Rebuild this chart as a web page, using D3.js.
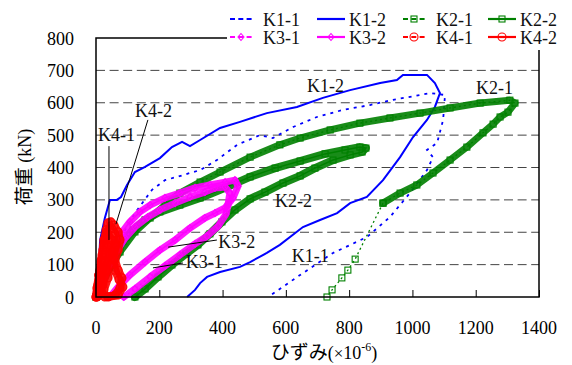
<!DOCTYPE html>
<html>
<head>
<meta charset="utf-8">
<script src="https://cdn.jsdelivr.net/npm/d3@7/dist/d3.min.js"></script>
<style>
  body { margin: 0; background: #fff; }
  svg text { font-family: "Liberation Serif", "Times New Roman", serif; }
  svg text .jp { font-family: "Noto Sans CJK JP", sans-serif; }
</style>
</head>
<body>
<script>
// ---- data: [strain (x10^-6), load (kN)] ----
const xTicks = [0, 200, 400, 600, 800, 1000, 1200, 1400];
const yTicks = [0, 100, 200, 300, 400, 500, 600, 700, 800];

const k11 = [[0,0],[44,114],[92,207],[123,259],[177,331],[218,361],[256,371],[297,383],[329,392],
  [382,423],[446,470],[518,500],[559,491],[623,525],[698,556],[781,578],[866,593],[939,609],
  [1008,621],[1056,630],[1103,624],[1097,547],[1078,476],[1046,454],[1065,432],[1046,392],
  [992,321],[929,247],[856,185],[749,136],[645,68],[566,15],[544,0]];

const k12 = [[0,0],[6,37],[13,176],[28,244],[44,300],[66,300],[79,309],[98,346],[123,386],
  [155,402],[202,429],[240,463],[272,479],[297,466],[329,485],[392,522],[455,541],[540,568],
  [635,587],[717,615],[803,639],[898,661],[951,670],[970,686],[1046,686],[1071,661],[1087,630],
  [1071,587],[1046,547],[1002,494],[961,432],[907,361],[856,309],[803,290],[762,259],[708,238],
  [654,216],[581,161],[540,136],[487,108],[455,93],[392,77],[351,62],[329,43],[313,22],[288,0]];

// K2-1: cyclic part, then the sparse unloading tail
const k21 = [[0,0],[19,37],[44,90],[76,139],[123,201],[171,244],[218,284],[265,321],[329,355],
  [392,386],[487,432],[581,470],[645,491],[740,516],[834,537],[929,553],[1024,568],[1119,584],
  [1214,599],[1308,608],[1324,599],[1302,571],[1277,556],[1255,534],[1223,507],[1172,463],
  [1119,423],[1065,383],[1014,346],[961,321],[907,290]];
const k21Tail = [[907,290],[819,117],[796,83],[777,59],[746,22],[730,0]];

const k22 = [[0,0],[13,37],[32,83],[54,130],[82,170],[117,207],[155,238],[202,263],[265,284],
  [329,306],[408,337],[487,371],[566,398],[645,420],[724,442],[787,454],[834,463],[853,460],
  [841,448],[803,439],[749,423],[692,398],[645,374],[591,352],[534,324],[487,303],[439,269],
  [398,232],[360,195],[322,161],[284,133],[240,99],[196,62],[155,25],[123,0]];

const k31 = [[0,0],[19,43],[38,90],[63,139],[92,182],[123,216],[164,247],[202,269],[250,290],
  [297,309],[344,324],[376,337],[408,340],[423,321],[417,284],[411,256],[386,219],[351,188],
  [313,164],[265,130],[218,96],[171,62],[123,25],[88,0]];

const k32 = [[0,0],[13,37],[28,90],[51,145],[76,192],[107,232],[139,263],[171,284],[218,306],
  [265,321],[313,337],[360,346],[408,355],[439,361],[449,343],[433,306],[408,275],[376,259],
  [344,244],[297,213],[250,176],[202,145],[155,108],[107,68],[70,31],[44,0]];

const k41 = [[0,0],[3,28],[9,68],[16,108],[22,145],[28,176],[35,201],[44,213],[54,198],[63,161],
  [54,120],[60,83],[73,53],[85,31],[70,6],[38,0],[19,15],[13,53],[19,90],[28,130],[41,161],
  [51,139],[44,99],[38,59],[25,22],[3,0]];

const k42 = [[0,0],[6,37],[13,83],[19,130],[25,176],[32,207],[38,229],[47,232],[57,222],[70,201],
  [76,176],[70,145],[60,114],[70,83],[82,59],[76,28],[60,6],[28,0],[13,22],[9,68],[16,114],
  [25,161],[38,192],[51,176],[44,130],[32,83],[22,37],[6,3]];

// ---- layout ----
const width = 572, height = 365;
const plot = {left: 96, right: 539, top: 38, bottom: 297};
const fs = 18;

const svg = d3.select('body').append('svg')
    .attr('width', width)
    .attr('height', height);

const x = d3.scaleLinear().domain([0, 1400]).range([plot.left, plot.right]);
const y = d3.scaleLinear().domain([0, 800]).range([plot.bottom, plot.top]);

// dashed grid
svg.append('g')
    .selectAll('line')
    .data(yTicks.filter(d => d > 0 && d < 800))
    .join('line')
    .attr('x1', plot.left).attr('x2', plot.right)
    .attr('y1', d => y(d)).attr('y2', d => y(d))
    .attr('stroke', '#444')
    .attr('stroke-width', 1)
    .attr('stroke-dasharray', '9,4.6');

// axes (ticks drawn inside)
const xAxis = svg.append('g')
    .attr('transform', `translate(0,${plot.bottom})`)
    .call(d3.axisTop(x).tickValues(xTicks).tickSize(7).tickFormat(''));
xAxis.select('.domain').remove();
xAxis.selectAll('line').attr('stroke', '#000');

svg.append('g')
    .selectAll('text')
    .data(xTicks)
    .join('text')
    .attr('x', d => x(d))
    .attr('y', 334)
    .attr('text-anchor', 'middle')
    .attr('font-size', fs)
    .text(d => d);

svg.append('g')
    .selectAll('text')
    .data(yTicks)
    .join('text')
    .attr('x', 74)
    .attr('y', d => y(d) + 6.5)
    .attr('text-anchor', 'end')
    .attr('font-size', fs)
    .text(d => d);

// series styles
const series = [
  {name: 'K1-1', data: k11, color: '#0000ff', dash: '3,5', lw: 1.8},
  {name: 'K1-2', data: k12, color: '#0000ff', dash: null, lw: 2},
  {name: 'K2-1', data: k21, tail: k21Tail, color: '#008000', dash: '2,3', lw: 1.3, marker: 'square', band: 7},
  {name: 'K2-2', data: k22, color: '#008000', dash: null, lw: 1.5, marker: 'square', band: 8},
  {name: 'K3-1', data: k31, color: '#ff00ff', dash: '2,3', lw: 1.3, marker: 'diamond', band: 7},
  {name: 'K3-2', data: k32, color: '#ff00ff', dash: null, lw: 1.5, marker: 'diamond', band: 7},
  {name: 'K4-1', data: k41, color: '#ff0000', dash: '2,3', lw: 1.3, marker: 'circle', band: 8},
  {name: 'K4-2', data: k42, color: '#ff0000', dash: null, lw: 1.5, marker: 'circle', band: 8}
];

const line = d3.line().x(d => x(d[0])).y(d => y(d[1]));

function drawMarker(g, kind, color, cx, cy) {
  if (kind === 'square') {
    g.append('rect').attr('x', cx - 3).attr('y', cy - 3).attr('width', 6).attr('height', 6)
      .attr('fill', 'none').attr('stroke', color).attr('stroke-width', 1.1);
  } else if (kind === 'diamond') {
    g.append('path').attr('d', `M${cx},${cy - 3.5}L${cx + 3},${cy}L${cx},${cy + 3.5}L${cx - 3},${cy}Z`)
      .attr('fill', 'none').attr('stroke', color).attr('stroke-width', 1.1);
  } else if (kind === 'circle') {
    g.append('circle').attr('cx', cx).attr('cy', cy).attr('r', 4)
      .attr('fill', 'none').attr('stroke', color).attr('stroke-width', 1.1);
  }
}

const plotG = svg.append('g');
series.forEach(s => {
  const g = plotG.append('g');
  // repeated cycles pile up into a solid band
  if (s.band) {
    g.append('path').attr('d', line(s.data))
      .attr('fill', 'none').attr('stroke', s.color).attr('stroke-width', s.band)
      .attr('stroke-opacity', 0.9)
      .attr('stroke-linejoin', 'round').attr('stroke-linecap', 'round');
  }
  [s.data, s.tail].filter(Boolean).forEach(arr => {
    g.append('path').attr('d', line(arr))
      .attr('fill', 'none').attr('stroke', s.color).attr('stroke-width', s.lw)
      .attr('stroke-dasharray', s.dash);
    if (s.marker) arr.forEach(p => drawMarker(g, s.marker, s.color, x(p[0]), y(p[1])));
  });
});

// frame
svg.append('rect')
    .attr('x', plot.left).attr('y', plot.top)
    .attr('width', plot.right - plot.left).attr('height', plot.bottom - plot.top)
    .attr('fill', 'none').attr('stroke', '#000').attr('stroke-width', 1.5);

// annotations (anchored in data units)
const notes = [
  {t: 'K1-2', at: [667, 633]}, {t: 'K2-1', at: [1201, 627]}, {t: 'K2-2', at: [566, 278]},
  {t: 'K1-1', at: [619, 108]}, {t: 'K3-2', at: [386, 151]}, {t: 'K3-1', at: [284, 90]},
  {t: 'K4-2', at: [123, 556]}, {t: 'K4-1', at: [6, 482]}
];
const leaders = [
  [[41, 466], [41, 176]], [[164, 547], [63, 225]], [[228, 154], [382, 176]], [[180, 90], [275, 105]]
];
svg.append('g').selectAll('line').data(leaders).join('line')
    .attr('x1', d => x(d[0][0])).attr('y1', d => y(d[0][1]))
    .attr('x2', d => x(d[1][0])).attr('y2', d => y(d[1][1]))
    .attr('stroke', '#000').attr('stroke-width', 1);
svg.append('g').selectAll('text').data(notes).join('text')
    .attr('x', d => x(d.at[0])).attr('y', d => y(d.at[1]))
    .attr('font-size', fs).attr('fill', '#111')
    .text(d => d.t);

// legend (white box hides the top of the frame)
const leg = svg.append('g');
leg.append('rect').attr('x', 227).attr('y', 0).attr('width', 345).attr('height', 50).attr('fill', '#fff');
const legCols = [230, 317, 403, 488];
const legLen = [22, 28, 22, 28];
const legRows = [19, 37];
series.forEach((s, i) => {
  const c = i % 4;
  const r = i < 4 ? 0 : 1;
  const x0 = legCols[c], x1 = x0 + legLen[c], yy = legRows[r];
  leg.append('line').attr('x1', x0).attr('x2', x1).attr('y1', yy).attr('y2', yy)
    .attr('stroke', s.color).attr('stroke-width', s.dash ? 1.8 : 2.2)
    .attr('stroke-dasharray', s.dash ? '5,3.3' : null);
  if (s.marker) drawMarker(leg, s.marker, s.color, (x0 + x1) / 2, yy);
  leg.append('text').attr('x', x1 + (legLen[c] === 22 ? 11 : 4)).attr('y', yy + 6.5)
    .attr('font-size', fs).attr('fill', '#111').text(s.name);
});

// axis titles
svg.append('text')
    .attr('transform', 'translate(31,167) rotate(-90)')
    .attr('text-anchor', 'middle')
    .attr('font-size', 19)
    .call(t => {
      t.append('tspan').attr('class', 'jp').text('荷重');
      t.append('tspan').attr('font-size', fs).text(' (kN)');
    });

svg.append('text')
    .attr('x', 324).attr('y', 359)
    .attr('text-anchor', 'middle')
    .attr('font-size', 19)
    .call(t => {
      t.append('tspan').attr('class', 'jp').text('ひずみ');
      t.append('tspan').attr('font-size', fs).text('(');
      t.append('tspan').attr('font-size', 17).text('×');
      t.append('tspan').attr('font-size', fs).text('10');
      t.append('tspan').attr('font-size', 12).attr('dy', -8).text('-6');
      t.append('tspan').attr('font-size', fs).attr('dy', 8).text(')');
    });
</script>
</body>
</html>
